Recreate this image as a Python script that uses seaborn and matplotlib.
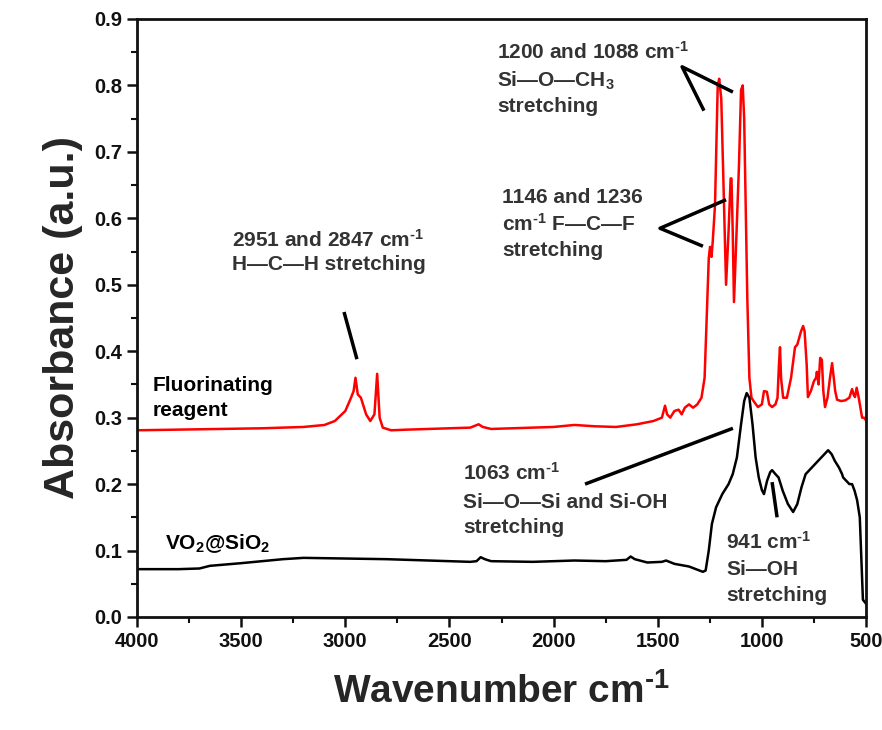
import matplotlib
matplotlib.use("Agg")
import matplotlib.pyplot as plt
import numpy as np
import pandas as pd
import seaborn as sns

# FTIR spectra: wavenumber (cm-1) and absorbance (a.u.)
reagent_wn = [4000, 3800, 3600, 3400, 3200, 3100, 3050, 3000, 2975, 2960, 2951, 2940,
              2925, 2900, 2880, 2860, 2847, 2835, 2820, 2780, 2700, 2500, 2400, 2360,
              2340, 2300, 2200, 2000, 1900, 1800, 1700, 1600, 1520, 1480, 1465, 1455,
              1440, 1420, 1400, 1385, 1370, 1350, 1330, 1310, 1290, 1275, 1265, 1255,
              1249, 1242, 1236, 1225, 1212, 1205, 1195, 1185, 1172, 1160, 1150, 1146,
              1140, 1134, 1125, 1110, 1100, 1092, 1085, 1070, 1060, 1050, 1040, 1019,
              1000, 990, 976, 965, 951, 935, 925, 918, 913, 908, 898, 880, 860, 841,
              830, 812, 802, 795, 785, 779, 765, 750, 740, 736, 728, 720, 712, 705,
              697, 685, 673, 663, 655, 648, 639, 620, 600, 580, 567, 560, 553, 545,
              535, 519, 510, 500]
reagent_abs = [0.281, 0.282, 0.283, 0.284, 0.286, 0.289, 0.295, 0.310, 0.328, 0.340, 0.360, 0.335,
               0.330, 0.305, 0.295, 0.305, 0.366, 0.300, 0.285, 0.281, 0.282, 0.284, 0.285, 0.290,
               0.286, 0.283, 0.284, 0.286, 0.289, 0.287, 0.286, 0.290, 0.295, 0.300, 0.318, 0.305,
               0.300, 0.310, 0.312, 0.305, 0.315, 0.320, 0.315, 0.320, 0.330, 0.360, 0.450, 0.540,
               0.557, 0.542, 0.565, 0.620, 0.800, 0.810, 0.780, 0.660, 0.500, 0.580, 0.660, 0.660,
               0.580, 0.474, 0.550, 0.680, 0.793, 0.800, 0.750, 0.480, 0.360, 0.330, 0.325, 0.316,
               0.320, 0.340, 0.339, 0.320, 0.316, 0.320, 0.330, 0.380, 0.406, 0.360, 0.330, 0.330,
               0.360, 0.406, 0.410, 0.430, 0.438, 0.430, 0.380, 0.331, 0.340, 0.355, 0.360, 0.369,
               0.350, 0.390, 0.387, 0.340, 0.316, 0.330, 0.360, 0.382, 0.360, 0.340, 0.327, 0.325,
               0.326, 0.330, 0.343, 0.335, 0.331, 0.345, 0.330, 0.300, 0.300, 0.296]

coated_wn = [4000, 3800, 3700, 3650, 3500, 3400, 3300, 3200, 3000, 2800, 2600, 2400,
             2370, 2350, 2330, 2300, 2100, 1900, 1750, 1650, 1630, 1610, 1550, 1480,
             1460, 1420, 1350, 1300, 1283, 1270, 1255, 1240, 1220, 1190, 1160, 1140,
             1120, 1100, 1085, 1073, 1060, 1045, 1030, 1015, 1000, 990, 975, 960,
             951, 935, 920, 900, 875, 850, 830, 810, 790, 760, 730, 700, 682, 665,
             650, 630, 615, 610, 595, 580, 567, 555, 543, 530, 515, 500]
coated_abs = [0.072, 0.072, 0.073, 0.077, 0.081, 0.084, 0.087, 0.089, 0.088, 0.087, 0.085, 0.083,
              0.084, 0.090, 0.087, 0.084, 0.083, 0.085, 0.084, 0.086, 0.091, 0.087, 0.082, 0.083,
              0.085, 0.080, 0.076, 0.070, 0.068, 0.070, 0.100, 0.140, 0.165, 0.185, 0.200, 0.215,
              0.240, 0.290, 0.325, 0.337, 0.330, 0.290, 0.240, 0.210, 0.191, 0.185, 0.205, 0.218,
              0.221, 0.215, 0.210, 0.190, 0.170, 0.158, 0.170, 0.195, 0.215, 0.225, 0.235, 0.245,
              0.251, 0.245, 0.235, 0.225, 0.215, 0.210, 0.205, 0.200, 0.200, 0.190, 0.176, 0.150,
              0.026, 0.020]

series_names = ["Fluorinating\nreagent", "VO$_2$@SiO$_2$"]
series_colors = ["#ff0000", "#000000"]

df = pd.concat([
    pd.DataFrame({"wn": reagent_wn, "A": reagent_abs, "sample": series_names[0]}),
    pd.DataFrame({"wn": coated_wn, "A": coated_abs, "sample": series_names[1]}),
])

sns.set_style("ticks")
plt.rcParams["font.family"] = ["Liberation Sans", "DejaVu Sans"]
plt.rcParams["font.weight"] = "bold"
plt.rcParams["mathtext.fontset"] = "custom"
plt.rcParams["mathtext.rm"] = "Liberation Sans:bold"
plt.rcParams["mathtext.bf"] = "Liberation Sans:bold"
plt.rcParams["mathtext.it"] = "Liberation Sans:bold"
plt.rcParams["mathtext.default"] = "bf"

fig = plt.figure(figsize=(8.82, 7.30), dpi=100)
ax = fig.add_axes([0.1553, 0.1548, 0.8266, 0.8192])

sns.lineplot(data=df, x="wn", y="A", hue="sample", palette=series_colors,
             hue_order=series_names, sort=False, estimator=None, linewidth=1.8,
             legend=False, ax=ax)

ax.set_xlim(4000, 500)
ax.set_ylim(0.0, 0.9)
ax.set_xticks(np.arange(4000, 499, -500))
ax.set_xticks(np.arange(3750, 500, -500), minor=True)
ax.set_yticks(np.arange(0.0, 0.91, 0.1))
ax.set_yticks(np.arange(0.05, 0.9, 0.1), minor=True)
ax.yaxis.set_major_formatter(matplotlib.ticker.FormatStrFormatter("%.1f"))

for side in ["left", "bottom", "top", "right"]:
    ax.spines[side].set_linewidth(2.0)
    ax.spines[side].set_color("#111111")
ax.tick_params(axis="both", which="major", direction="out", length=7, width=1.8,
               labelsize=14.5, colors="#111111", top=False, right=False)
ax.tick_params(axis="both", which="minor", direction="out", length=4, width=1.5,
               top=False, right=False, colors="#111111")
for lab in ax.get_xticklabels() + ax.get_yticklabels():
    lab.set_fontweight("bold")

ax.set_xlabel(r"Wavenumber cm$^{\text{-}1}$", fontsize=28, fontweight="bold", labelpad=16)
ax.set_ylabel("Absorbance (a.u.)", fontsize=31, fontweight="bold", labelpad=8)

# Series labels
ax.text(3923, 0.349, "Fluorinating", fontsize=15, va="center", ha="left", color="black")
ax.text(3923, 0.311, "reagent", fontsize=15, va="center", ha="left", color="black")
ax.text(3866, 0.111, "VO$_2$@SiO$_2$", fontsize=15, va="center", ha="left", color="black")

note_color = "#333333"
inv_cm = r"cm$^{\text{-}1}$"
notes = [
    (2272, 0.850, "1200 and 1088 " + inv_cm),
    (2272, 0.807, "Si\u2014O\u2014CH$_3$"),
    (2272, 0.769, "stretching"),
    (2248, 0.631, "1146 and 1236"),
    (2248, 0.591, inv_cm + " F\u2014C\u2014F"),
    (2248, 0.552, "stretching"),
    (3545, 0.567, "2951 and 2847 " + inv_cm),
    (3545, 0.530, "H\u2014C\u2014H stretching"),
    (2435, 0.217, "1063 " + inv_cm),
    (2435, 0.173, "Si\u2014O\u2014Si and Si-OH"),
    (2435, 0.135, "stretching"),
    (1172, 0.113, "941 " + inv_cm),
    (1172, 0.071, "Si\u2014OH"),
    (1172, 0.032, "stretching"),
]
for x, y, s in notes:
    ax.text(x, y, s, fontsize=15, va="center", ha="left", color=note_color)

# Leader lines pointing at the assigned bands
leaders = [
    ([1278, 1383, 1139], [0.762, 0.828, 0.790]),
    ([1172, 1489, 1283], [0.628, 0.585, 0.558]),
    ([3006, 2944], [0.459, 0.388]),
    ([1849, 1139], [0.200, 0.284]),
    ([951, 927], [0.203, 0.150]),
]
for xs, ys in leaders:
    ax.plot(xs, ys, color="black", linewidth=2.5, solid_capstyle="butt")

fig.savefig("out.png", dpi=100)
